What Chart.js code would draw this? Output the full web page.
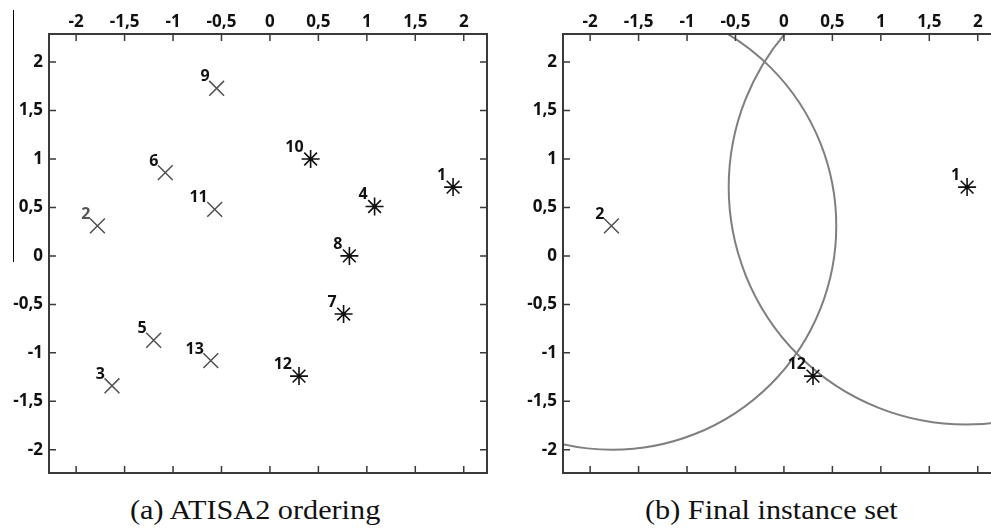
<!DOCTYPE html>
<html>
<head>
<meta charset="utf-8">
<script src="https://cdn.jsdelivr.net/npm/chart.js@4"></script>
<style>
  html, body { margin:0; padding:0; background:#fff; }
  #wrap { position:relative; width:991px; height:530px; overflow:hidden; background:#fff; }
  canvas { position:absolute; top:0; }
  #c1 { left:0; }
  #c2 { left:514px; }
  .cap { position:absolute; top:497px; font-family:"Liberation Serif", serif; font-size:27px; line-height:27px; color:#111; white-space:nowrap; transform-origin:0 0; transform:scaleX(1.12); }
  #edge { position:absolute; left:13px; top:10px; width:1px; height:252px; background:#000; }
</style>
</head>
<body>
<div id="wrap">
  <div id="edge"></div>
  <canvas id="c1" width="495" height="480"></canvas>
  <canvas id="c2" width="495" height="480"></canvas>
  <div class="cap" style="left:130px">(a) ATISA2 ordering</div>
  <div class="cap" style="left:645px">(b) Final instance set</div>
</div>
<script>
// ---- data ----
const tickValues = [-2, -1.5, -1, -0.5, 0, 0.5, 1, 1.5, 2];
const tickLabels = ['-2', '-1,5', '-1', '-0,5', '0', '0,5', '1', '1,5', '2'];
const pointIds = [1, 2, 3, 4, 5, 6, 7, 8, 9, 10, 11, 12, 13];
const pointX = [1.89, -1.78, -1.63, 1.08, -1.20, -1.08, 0.76, 0.82, -0.55, 0.42, -0.57, 0.30, -0.61];
const pointY = [0.71, 0.31, -1.34, 0.51, -0.87, 0.86, -0.60, 0.00, 1.73, 1.00, 0.48, -1.24, -1.08];
const pointClass = ['star', 'cross', 'cross', 'star', 'cross', 'cross', 'star', 'star', 'cross', 'star', 'cross', 'star', 'cross'];
const finalIds = [1, 2, 12];
const circleCenterX = [-1.77, 1.88];
const circleCenterY = [0.31, 0.71];
const circleRadius = [2.31, 2.45];

const xRange = [-2.28, 2.24];
const yRange = [-2.24, 2.29];

// ---- helpers ----
function pts(ids, cls) {
  return ids.filter(id => pointClass[id - 1] === cls)
            .map(id => ({ x: pointX[id - 1], y: pointY[id - 1], id: id }));
}
const tickFont = { family: '"Open Sans", sans-serif', size: 17, weight: 'bold' };
const labelFont = 'bold 16px "Open Sans", sans-serif';

const framePlugin = {
  id: 'frame',
  afterDraw(chart) {
    const { ctx, chartArea: a, scales: { x, y } } = chart;
    ctx.save();
    ctx.strokeStyle = '#3a3a3a';
    ctx.lineWidth = 1.5;
    ctx.beginPath();
    x.ticks.forEach(t => {
      const px = x.getPixelForValue(t.value);
      ctx.moveTo(px, a.top); ctx.lineTo(px, a.top + 7);
      ctx.moveTo(px, a.bottom); ctx.lineTo(px, a.bottom - 7);
    });
    y.ticks.forEach(t => {
      const py = y.getPixelForValue(t.value);
      ctx.moveTo(a.left, py); ctx.lineTo(a.left + 7, py);
      ctx.moveTo(a.right, py); ctx.lineTo(a.right - 7, py);
    });
    ctx.stroke();
    ctx.lineWidth = 2;
    ctx.strokeRect(a.left, a.top, a.right - a.left, a.bottom - a.top);
    ctx.restore();
  }
};

const circlePlugin = {
  id: 'circles',
  beforeDatasetsDraw(chart, args, opts) {
    if (!opts.show) return;
    const { ctx, chartArea: a, scales: { x, y } } = chart;
    ctx.save();
    ctx.beginPath();
    ctx.rect(a.left, a.top, a.right - a.left, a.bottom - a.top);
    ctx.clip();
    ctx.strokeStyle = '#7f7f7f';
    ctx.lineWidth = 2;
    for (let i = 0; i < circleCenterX.length; i++) {
      const cx = x.getPixelForValue(circleCenterX[i]);
      const cy = y.getPixelForValue(circleCenterY[i]);
      const rx = Math.abs(x.getPixelForValue(circleCenterX[i] + circleRadius[i]) - cx);
      const ry = Math.abs(y.getPixelForValue(circleCenterY[i] + circleRadius[i]) - cy);
      ctx.beginPath();
      ctx.ellipse(cx, cy, rx, ry, 0, 0, Math.PI * 2);
      ctx.stroke();
    }
    ctx.restore();
  }
};

const labelPlugin = {
  id: 'ptlabels',
  afterDatasetsDraw(chart, args, opts) {
    const { ctx } = chart;
    ctx.save();
    ctx.font = labelFont;
    ctx.textAlign = 'right';
    ctx.textBaseline = 'alphabetic';
    chart.data.datasets.forEach((ds, di) => {
      if (!ds.showIds) return;
      const meta = chart.getDatasetMeta(di);
      meta.data.forEach((el, i) => {
        const id = ds.data[i].id;
        ctx.fillStyle = (opts.grayIds || []).includes(id) ? '#555' : '#111';
        ctx.fillText(String(id), el.x - 7, el.y - 7);
      });
    });
    ctx.restore();
  }
};

function makeChart(canvasId, ids, showCircles, grayIds) {
  const crosses = pts(ids, 'cross');
  const stars = pts(ids, 'star');
  return new Chart(document.getElementById(canvasId), {
    type: 'scatter',
    data: {
      datasets: [
        { data: crosses, showIds: true, pointStyle: 'crossRot', radius: 10.5, borderColor: '#505050', borderWidth: 1.5, backgroundColor: 'transparent' },
        { data: stars, showIds: true, pointStyle: 'star', radius: 9, borderColor: '#111', borderWidth: 1.6, backgroundColor: 'transparent' },
        { data: stars, showIds: false, pointStyle: 'circle', radius: 2.2, borderWidth: 0, backgroundColor: '#000' }
      ]
    },
    options: {
      responsive: false,
      animation: false,
      devicePixelRatio: 1,
      layout: { autoPadding: false, padding: { left: 0, top: 0, right: 8, bottom: 7 } },
      plugins: {
        legend: { display: false },
        tooltip: { enabled: false },
        circles: { show: showCircles },
        ptlabels: { grayIds: grayIds }
      },
      scales: {
        x: {
          type: 'linear', position: 'top', min: xRange[0], max: xRange[1],
          grid: { display: false, drawTicks: false },
          border: { display: false },
          ticks: { font: tickFont, color: '#111', padding: 2, maxRotation: 0,
                   callback: v => tickLabels[tickValues.indexOf(v)] },
          afterBuildTicks: s => { s.ticks = tickValues.map(v => ({ value: v })); },
          afterFit: s => { s.height = 34; s.paddingLeft = 0; s.paddingRight = 0; }
        },
        y: {
          type: 'linear', position: 'left', min: yRange[0], max: yRange[1],
          grid: { display: false, drawTicks: false },
          border: { display: false },
          ticks: { font: tickFont, color: '#111', padding: 6,
                   callback: v => tickLabels[tickValues.indexOf(v)] },
          afterBuildTicks: s => { s.ticks = tickValues.map(v => ({ value: v })); },
          afterFit: s => { s.width = 49; s.paddingTop = 0; s.paddingBottom = 0; }
        }
      }
    },
    plugins: [circlePlugin, framePlugin, labelPlugin]
  });
}

makeChart('c1', pointIds, false, [2]);
makeChart('c2', finalIds, true, []);
</script>
</body>
</html>
